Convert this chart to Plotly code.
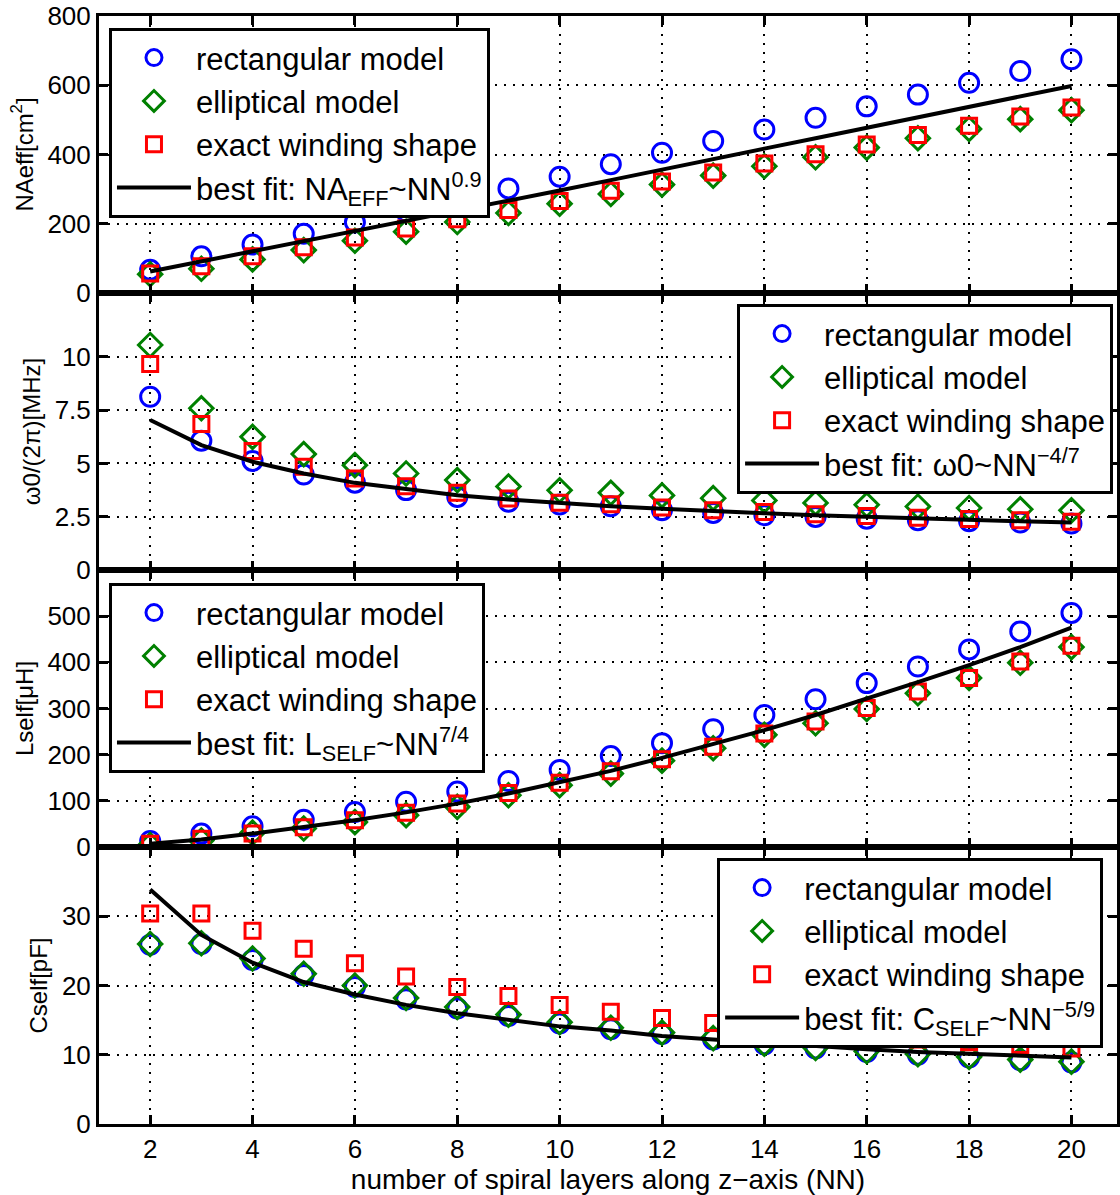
import plotly.graph_objects as go
from plotly.subplots import make_subplots

# number of spiral layers along the z-axis
nn = list(range(2, 21))

# effective area NAeff [cm^2]
na_rect = [67, 106, 140, 171, 204, 235, 268, 302, 336, 372, 405, 439, 472, 506, 539, 573, 607, 641, 675]
na_ellip = [54, 70, 97, 124, 151, 177, 205, 231, 258, 286, 313, 339, 366, 392, 420, 447, 474, 502, 528]
na_exact = [56, 77, 106, 132, 160, 186, 213, 240, 266, 295, 322, 348, 374, 401, 429, 456, 483, 510, 536]
na_fit = [62, 91, 120, 150, 179, 208, 238, 267, 296, 326, 357, 387, 417, 447, 477, 507, 537, 568, 598]

# resonance frequency w0/(2 pi) [MHz]
w0_rect = [8.13, 6.07, 5.12, 4.48, 4.10, 3.75, 3.43, 3.20, 3.07, 2.99, 2.81, 2.68, 2.57, 2.49, 2.41, 2.34, 2.29, 2.23, 2.18]
w0_ellip = [10.56, 7.59, 6.25, 5.44, 4.92, 4.53, 4.22, 3.92, 3.74, 3.62, 3.50, 3.37, 3.26, 3.15, 3.06, 2.98, 2.91, 2.85, 2.80]
w0_exact = [9.67, 6.85, 5.58, 4.84, 4.29, 3.93, 3.62, 3.35, 3.16, 3.08, 2.93, 2.81, 2.72, 2.62, 2.53, 2.45, 2.39, 2.33, 2.27]
w0_fit = [7.04, 5.86, 5.08, 4.53, 4.09, 3.78, 3.51, 3.31, 3.14, 2.99, 2.88, 2.76, 2.66, 2.57, 2.49, 2.41, 2.34, 2.29, 2.23]

# self inductance Lself [uH]
l_rect = [13, 29, 45, 59, 76, 98, 120, 143, 167, 197, 225, 255, 286, 320, 355, 391, 428, 467, 507]
l_ellip = [4, 14, 31, 40, 54, 69, 87, 112, 134, 159, 187, 214, 243, 268, 299, 333, 366, 399, 433]
l_exact = [7, 18, 29, 43, 58, 74, 94, 117, 139, 164, 190, 217, 246, 272, 301, 337, 366, 402, 436]
l_fit = [7, 16, 29, 43, 58, 75, 94, 116, 140, 165, 193, 222, 253, 286, 321, 357, 394, 433, 475]

# self capacitance Cself [pF]
c_rect = [25.9, 26.0, 23.7, 21.5, 19.8, 18.0, 16.7, 15.6, 14.5, 13.7, 13.0, 12.2, 11.5, 10.9, 10.4, 10.0, 9.6, 9.2, 8.9]
c_ellip = [26.0, 26.1, 23.9, 21.7, 20.0, 18.2, 16.9, 15.8, 14.7, 13.9, 13.2, 12.4, 11.6, 11.0, 10.5, 10.1, 9.7, 9.3, 9.0]
c_exact = [30.4, 30.4, 27.9, 25.3, 23.2, 21.3, 19.8, 18.5, 17.2, 16.2, 15.3, 14.6, 13.9, 13.3, 12.7, 12.2, 11.8, 11.4, 10.9]
c_fit = [33.85, 27.3, 23.3, 20.5, 18.7, 17.2, 16.0, 15.0, 14.1, 13.5, 12.7, 12.2, 11.7, 11.2, 10.8, 10.4, 10.1, 9.8, 9.6]

x_ticks = [2, 4, 6, 8, 10, 12, 14, 16, 18, 20]
y_ticks = [
    [0, 200, 400, 600, 800],
    [0, 2.5, 5, 7.5, 10],
    [0, 100, 200, 300, 400, 500],
    [0, 10, 20, 30],
]
y_ranges = [[0, 800], [0, 13], [0, 600], [0, 40]]
y_titles = ["NAeff[cm<sup>2</sup>]", "\u03c90/(2\u03c0)[MHz]", "Lself[\u03bcH]", "Cself[pF]"]
fit_names = [
    "best fit: NA<sub>EFF</sub>~NN<sup>0.9</sup>",
    "best fit: \u03c90~NN<sup>\u22124/7</sup>",
    "best fit: L<sub>SELF</sub>~NN<sup>7/4</sup>",
    "best fit: C<sub>SELF</sub>~NN<sup>\u22125/9</sup>",
]
series = [
    (na_rect, na_ellip, na_exact, na_fit),
    (w0_rect, w0_ellip, w0_exact, w0_fit),
    (l_rect, l_ellip, l_exact, l_fit),
    (c_rect, c_ellip, c_exact, c_fit),
]
legend_ids = ["legend", "legend2", "legend3", "legend4"]
# legend boxes: top-left corner in paper coordinates
legend_pos = [(0.0098, 0.9892), (0.6268, 0.7401), (0.0098, 0.4883), (0.6072, 0.2401)]

FONT = "Liberation Sans, Arial, Helvetica, sans-serif"
BLUE, GREEN, RED = "#0000ff", "#008000", "#ff0000"

fig = make_subplots(rows=4, cols=1, shared_xaxes=True, vertical_spacing=0)

for i, (rect, ellip, exact, fit) in enumerate(series):
    row = i + 1
    lg = legend_ids[i]
    fig.add_trace(go.Scatter(
        x=nn, y=rect, mode="markers", name="rectangular model", legend=lg,
        marker=dict(symbol="circle-open", size=19, color=BLUE, line=dict(width=3, color=BLUE)),
    ), row=row, col=1)
    fig.add_trace(go.Scatter(
        x=nn, y=ellip, mode="markers", name="elliptical model", legend=lg,
        marker=dict(symbol="diamond-open", size=18, color=GREEN, line=dict(width=3, color=GREEN)),
    ), row=row, col=1)
    fig.add_trace(go.Scatter(
        x=nn, y=exact, mode="markers", name="exact winding shape", legend=lg,
        marker=dict(symbol="square-open", size=15, color=RED, line=dict(width=3, color=RED)),
    ), row=row, col=1)
    fig.add_trace(go.Scatter(
        x=nn, y=fit, mode="lines", name=fit_names[i], legend=lg,
        line=dict(color="black", width=4),
    ), row=row, col=1)

    fig.update_yaxes(
        row=row, col=1,
        range=y_ranges[i], tickvals=y_ticks[i],
        ticks="inside", ticklen=9, tickwidth=2.5, tickcolor="black",
        showline=True, linewidth=3, linecolor="black", mirror="ticks",
        showgrid=True, gridcolor="black", gridwidth=1.5, griddash="2px,7px",
        zeroline=False,
        tickfont=dict(size=26, color="black", family=FONT),
        title=dict(text=y_titles[i], font=dict(size=24, color="black", family=FONT), standoff=8),
    )
    fig.update_xaxes(
        row=row, col=1,
        range=[1, 20.89], tickvals=x_ticks,
        ticks="inside", ticklen=9, tickwidth=2.5, tickcolor="black",
        showline=True, linewidth=3, linecolor="black", mirror="ticks",
        showgrid=True, gridcolor="black", gridwidth=1.5, griddash="2px,7px",
        zeroline=False,
        tickfont=dict(size=26, color="black", family=FONT),
    )

fig.update_xaxes(
    row=4, col=1,
    title=dict(text="number of spiral layers along z\u2212axis (NN)",
               font=dict(size=28, color="black", family=FONT), standoff=2),
)

legend_style = dict(
    xanchor="left", yanchor="top", bgcolor="white",
    bordercolor="black", borderwidth=3,
    font=dict(size=31, color="black", family=FONT),
    itemwidth=74, tracegroupgap=0,
)
layout_legends = {}
for lg, (lx, ly) in zip(legend_ids, legend_pos):
    layout_legends[lg] = dict(x=lx, y=ly, **legend_style)

fig.update_layout(
    width=1120, height=1195,
    margin=dict(l=99, r=0, t=16, b=71),
    paper_bgcolor="white", plot_bgcolor="white",
    font=dict(family=FONT, color="black"),
    showlegend=True,
    **layout_legends,
)

fig.write_html("out.html")
